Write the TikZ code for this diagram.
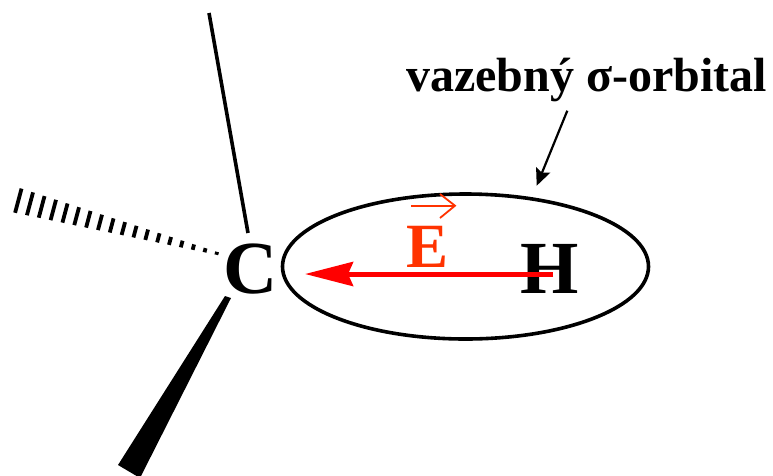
\documentclass[tikz,border=0pt]{standalone}
\usepackage{fontspec}
\setmainfont{Liberation Serif}
\usetikzlibrary{shapes.geometric,arrows.meta,calc}
\definecolor{fieldred}{HTML}{FF3300}
\tikzset{
  atom/.style={inner sep=0pt,outer sep=0pt,anchor=base,font=\bfseries\fontsize{75}{77}\selectfont},
  bond/.style={line width=3.6pt,black},
  hash/.style={line width=3.8pt,black},
  orbit/.style={draw=black,line width=3.6pt,ellipse,inner sep=0pt,outer sep=0pt,minimum width=366pt,minimum height=145pt},
  fieldarrow/.style={draw=red,line width=5pt,-{Stealth[length=48pt,width=24pt,inset=5pt]},shorten <=0pt},
  pointer/.style={draw=black,line width=2.2pt,-{Stealth[length=17pt,width=15pt,inset=3pt]}},
  vecbar/.style={draw=fieldred,line width=1.8pt},
}
\begin{document}
\begin{tikzpicture}[x=1pt,y=-1pt]
\useasboundingbox (0,0) rectangle (773,475);
\fill[white] (0,0) rectangle (773,475);
% anchors for free ends
\coordinate (bondtop) at (209,13);
\coordinate (bondbase) at (248,233);
\coordinate (wedgeA) at (225,296);
\coordinate (wedgeB) at (231,298);
\coordinate (wedgeC) at (118,465);
\coordinate (wedgeD) at (140,478);
\coordinate (hashfar) at (18.3,200.7);
\coordinate (hashnear) at (216.7,253.3);
\coordinate (fieldtip) at (305,274);
\coordinate (fieldtail) at (553,274);
\coordinate (pointerstart) at (567.3,110.7);
\coordinate (pointerend) at (536.7,185.7);
\coordinate (vecL) at (411,205.7);
\coordinate (vecR) at (455,205.7);
\coordinate (vecU) at (440,194);
\coordinate (vecD) at (440,218);
% nodes
\node[orbit] (orbital) at (465.5,266.5) {};
\node[atom] (C) at (250.5,293) {C};
\node[atom] (H) at (550,293) {H};
\node[atom,text=fieldred,font=\bfseries\fontsize{63}{65}\selectfont] (E) at (428,267) {E};
\node[inner sep=0pt,outer sep=0pt,anchor=base west,font=\bfseries\fontsize{48}{50}\selectfont] (label) at (406,91) {vazebný σ-orbital};
% connectors
\draw[bond] (bondtop) -- (bondbase);
\fill[black] (wedgeA) -- (wedgeB) -- (wedgeD) -- (wedgeC) -- cycle;
\foreach \i in {0,...,17}{
  \pgfmathsetmacro{\t}{\i/17}
  \pgfmathsetmacro{\hl}{12.5-11*\t}
  \draw[hash] ($(hashfar)!\t!(hashnear)+(0.258*\hl,-0.966*\hl)$) -- ($(hashfar)!\t!(hashnear)+(-0.258*\hl,0.966*\hl)$);
}
\draw[fieldarrow] (fieldtail) -- (fieldtip);
\draw[pointer] (pointerstart) -- (pointerend);
\draw[vecbar] (vecL) -- (vecR);
\draw[vecbar] (vecU) -- (vecR) -- (vecD);
\end{tikzpicture}
\end{document}
